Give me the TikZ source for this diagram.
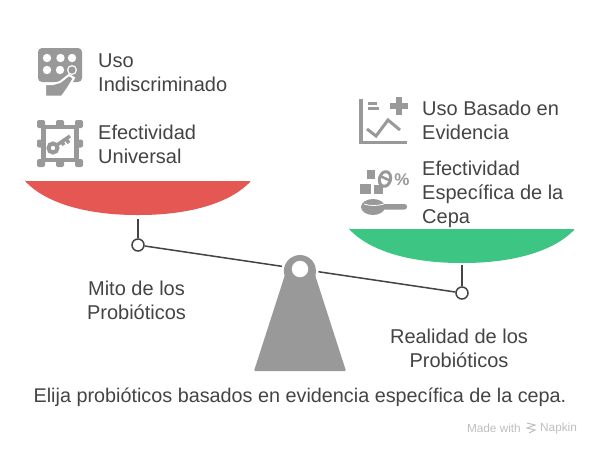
\documentclass[tikz,border=0pt]{standalone}
\usepackage{fontspec}
\setmainfont{Liberation Sans}
\usetikzlibrary{positioning}
\definecolor{mythred}{RGB}{229,87,83}
\definecolor{factgreen}{RGB}{60,197,131}
\definecolor{beamgray}{RGB}{68,68,68}
\definecolor{icongray}{RGB}{153,153,153}
\tikzset{
  itemtext/.style={anchor=west, align=left, inner sep=0pt, text=beamgray, font=\fontsize{20}{24}\selectfont},
  captiontext/.style={align=center, inner sep=0pt, text=beamgray, font=\fontsize{20}{24}\selectfont},
  marktext/.style={inner sep=0pt, text=black!25, font=\fontsize{11.8}{12}\selectfont},
  pivot/.style={circle, draw=beamgray, fill=white, line width=1.5pt, minimum size=12pt, inner sep=0pt},
  beam/.style={draw=beamgray, line width=1.5pt},
  icon/.style={fill=icongray, draw=none},
  iconline/.style={draw=icongray, line width=3.5pt}
}
\begin{document}
\begin{tikzpicture}[x=1pt,y=-1pt]
  \useasboundingbox[fill=white] (0,0) rectangle (600,456);

  % pans
  \fill[mythred, rounded corners=1pt] (25,181) -- (251,181) .. controls (228,205) and (185,215) .. (138,215)
    .. controls (91,215) and (48,205) .. (25,181) -- cycle;
  \fill[factgreen, rounded corners=1pt] (349,229) -- (575,229) .. controls (552,253) and (509,263) .. (462,263)
    .. controls (415,263) and (372,253) .. (349,229) -- cycle;

  % beam and stems
  \node[pivot] (pivotleft) at (138,245) {};
  \node[pivot] (pivotright) at (462,293) {};
  \coordinate (stemleft) at (138,219);
  \coordinate (stemright) at (462,265);
  \draw[beam] (pivotleft) -- (pivotright);
  \draw[beam] (stemleft) -- (pivotleft);
  \draw[beam] (stemright) -- (pivotright);

  % fulcrum
  \draw[draw=white, fill=white, line width=5pt] (254,371) -- (284.7,275.7) arc (163:377:16) -- (346,371) -- cycle;
  \fill[icongray, rounded corners=1pt] (254,371) -- (284.7,275.7) -- (284.7,275.7) arc (163:377:16) -- (346,371) -- cycle;
  \fill[white] (300,269) circle (8.2);

  % keypad and hand
  \fill[icon, rounded corners=4pt] (38,48) rectangle (82,82);
  \foreach \x in {47,60.5,72} \fill[white] (\x,58) circle (4.2);
  \foreach \x in {47,60} \fill[white] (\x,70) circle (4.2);
  \fill[white] (72,70) circle (5);
  \fill[icon] (72,70) circle (3.6);
  \draw[white, line width=2pt, fill=icongray] (45,84) -- (53,84) -- (60,82) -- (69,75) -- (74,78) -- (68,88) -- (62,96.5) -- (45,96.5) -- cycle;
  \draw[white, line width=2pt] (36,85) -- (45,85) (60,97) -- (84,97);

  % frame and key
  \draw[draw=icongray, line width=4.5pt] (43.5,127) rectangle (76.5,160);
  \foreach \x/\y in {41/124,60/124,79/124,41/143.5,79/143.5,41/163,60/163,79/163}
    \fill[icon, rounded corners=2pt] (\x-4,\y-4) rectangle (\x+4,\y+4);
  \draw[draw=icongray, line width=4pt] (53,148) circle (4.5);
  \draw[iconline] (57,145) -- (70,136) (66,139) -- (69,143) (62,142) -- (64,145);

  % chart
  \draw[iconline] (361,99) -- (361,142.5) -- (407,142.5);
  \draw[icongray, line width=3pt] (368,103) -- (377,103) (368,108) -- (379,108);
  \draw[icongray, line width=6pt] (399,97) -- (399,115) (390,106) -- (408,106);
  \draw[icongray, line width=3pt] (367,129) -- (376,136) -- (388,120) -- (400,130);

  % spoon and pills
  \fill[icon] (367,170) rectangle (375,179);
  \fill[icon] (360,184) rectangle (371,194);
  \fill[icon] (374,185) rectangle (383,194);
  \draw[icongray, line width=3pt, rotate around={-15:(385,179)}] (385,179) ellipse (5.5 and 7.5);
  \draw[icongray, line width=2.5pt] (380,176) -- (391,181);
  \fill[icon] (373,207) ellipse (12 and 8);
  \fill[icon, rounded corners=2.5pt] (380,204) rectangle (407,209.5);
  \draw[white, line width=0.8pt] (364,204) .. controls (370,206) and (377,206) .. (384,204);
  \node[inner sep=0pt, text=icongray, font=\fontsize{17}{17}\selectfont\bfseries] (percent) at (402,180) {\%};

  % texts
  \node[itemtext] (useone) at (98,73) {Uso\\Indiscriminado};
  \node[itemtext] (effectone) at (98,144) {Efectividad\\Universal};
  \node[itemtext] (usetwo) at (422,120) {Uso Basado en\\Evidencia};
  \node[itemtext] (effecttwo) at (422,194) {Efectividad\\Específica de la\\Cepa};
  \node[captiontext] (myth) at (136.5,300) {Mito de los\\Probióticos};
  \node[captiontext] (fact) at (459,348) {Realidad de los\\Probióticos};
  \node[captiontext, font=\fontsize{19.8}{24}\selectfont] (advice) at (300,397) {Elija probióticos basados en evidencia específica de la cepa.};

  % watermark
  \node[marktext, anchor=east] (made) at (521,428.5) {Made with};
  \node[marktext, anchor=west] (napkin) at (540,428.5) {Napkin};
  \draw[black!25, line width=1pt] (527,423) -- (535,425) -- (527,428) -- (535,430) -- (529,433);
\end{tikzpicture}
\end{document}
